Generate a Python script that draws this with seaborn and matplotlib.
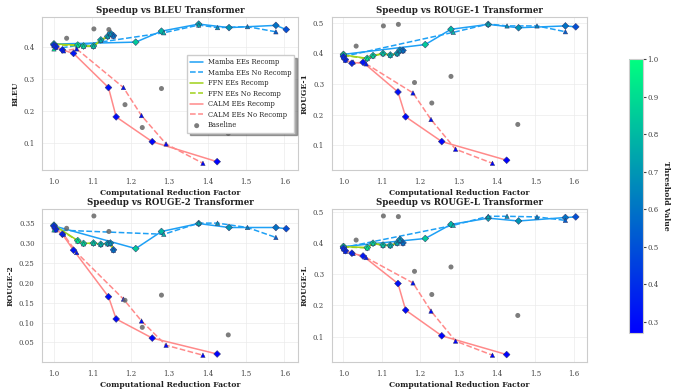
import numpy as np
import pandas as pd
import seaborn as sns
import matplotlib.pyplot as plt
from matplotlib.colors import Normalize

metrics = ["BLEU", "ROUGE-1", "ROUGE-2", "ROUGE-L"]

# Mamba early exits
mamba_re_x = [1.0, 1.213, 1.28, 1.377, 1.456, 1.578, 1.605]
mamba_re_thr = [0.95, 0.85, 0.8, 0.75, 0.7, 0.6, 0.5]
mamba_re_bleu = [0.408, 0.414, 0.448, 0.470, 0.459, 0.466, 0.453]
mamba_re_r1 = [0.397, 0.429, 0.479, 0.495, 0.484, 0.490, 0.487]
mamba_re_r2 = [0.343, 0.286, 0.329, 0.349, 0.339, 0.339, 0.336]
mamba_re_rl = [0.388, 0.414, 0.459, 0.479, 0.470, 0.481, 0.483]

mamba_no_x = [1.0, 1.286, 1.377, 1.426, 1.504, 1.578]
mamba_no_thr = [0.95, 0.8, 0.75, 0.7, 0.65, 0.55]
mamba_no_bleu = [0.393, 0.443, 0.467, 0.459, 0.462, 0.446]
mamba_no_r1 = [0.390, 0.469, 0.496, 0.490, 0.490, 0.471]
mamba_no_r2 = [0.333, 0.322, 0.350, 0.350, 0.339, 0.314]
mamba_no_rl = [0.385, 0.456, 0.485, 0.485, 0.483, 0.472]

# FFN early exits
ffn_x = [1.0, 1.062, 1.077, 1.103, 1.122, 1.14, 1.147, 1.155]
ffn_thr = [1.0, 0.95, 0.9, 0.85, 0.8, 0.75, 0.7, 0.6]
ffn_re_bleu = [0.408, 0.405, 0.402, 0.402, 0.421, 0.432, 0.442, 0.434]
ffn_re_r1 = [0.395, 0.384, 0.393, 0.400, 0.395, 0.400, 0.411, 0.410]
ffn_re_r2 = [0.345, 0.306, 0.299, 0.300, 0.297, 0.299, 0.300, 0.283]
ffn_re_rl = [0.388, 0.385, 0.399, 0.393, 0.392, 0.400, 0.411, 0.400]
ffn_no_bleu = [0.406, 0.403, 0.401, 0.401, 0.419, 0.431, 0.440, 0.433]
ffn_no_r1 = [0.394, 0.383, 0.392, 0.399, 0.394, 0.399, 0.409, 0.409]
ffn_no_r2 = [0.344, 0.305, 0.298, 0.299, 0.296, 0.298, 0.299, 0.282]
ffn_no_rl = [0.387, 0.384, 0.398, 0.392, 0.391, 0.399, 0.409, 0.399]

# CALM early exits
calm_thr = [0.4, 0.37, 0.35, 0.33, 0.31, 0.29, 0.28, 0.27]
calm_re_x = [1.0, 1.005, 1.022, 1.051, 1.142, 1.162, 1.256, 1.425]
calm_re_bleu = [0.405, 0.400, 0.390, 0.379, 0.273, 0.182, 0.105, 0.043]
calm_re_r1 = [0.390, 0.380, 0.368, 0.371, 0.274, 0.193, 0.112, 0.051]
calm_re_r2 = [0.343, 0.335, 0.322, 0.282, 0.165, 0.109, 0.061, 0.021]
calm_re_rl = [0.383, 0.375, 0.367, 0.358, 0.270, 0.185, 0.103, 0.043]

calm_no_x = [1.0, 1.005, 1.025, 1.059, 1.181, 1.228, 1.292, 1.388]
calm_no_bleu = [0.403, 0.398, 0.387, 0.393, 0.273, 0.186, 0.098, 0.038]
calm_no_r1 = [0.388, 0.378, 0.372, 0.366, 0.271, 0.184, 0.087, 0.041]
calm_no_r2 = [0.341, 0.333, 0.322, 0.276, 0.159, 0.104, 0.043, 0.018]
calm_no_rl = [0.381, 0.373, 0.366, 0.353, 0.272, 0.182, 0.086, 0.041]

# baseline
base_x = [1.033, 1.104, 1.143, 1.185, 1.23, 1.28, 1.454]
base_bleu = [0.426, 0.455, 0.453, 0.220, 0.149, 0.270, 0.131]
base_r1 = [0.424, 0.490, 0.495, 0.305, 0.238, 0.325, 0.168]
base_r2 = [0.337, 0.368, 0.329, 0.156, 0.088, 0.169, 0.069]
base_rl = [0.409, 0.486, 0.484, 0.309, 0.235, 0.323, 0.168]

MAMBA_C = "#1ea0f5"
FFN_C = "#9fd11a"
CALM_C = "#ff8a8a"

series = [
    ("Mamba EEs Recomp", mamba_re_x, mamba_re_thr,
     [mamba_re_bleu, mamba_re_r1, mamba_re_r2, mamba_re_rl], MAMBA_C, "-", "D"),
    ("Mamba EEs No Recomp", mamba_no_x, mamba_no_thr,
     [mamba_no_bleu, mamba_no_r1, mamba_no_r2, mamba_no_rl], MAMBA_C, "--", "^"),
    ("FFN EEs Recomp", ffn_x, ffn_thr,
     [ffn_re_bleu, ffn_re_r1, ffn_re_r2, ffn_re_rl], FFN_C, "-", "D"),
    ("FFN EEs No Recomp", ffn_x, ffn_thr,
     [ffn_no_bleu, ffn_no_r1, ffn_no_r2, ffn_no_rl], FFN_C, "--", "^"),
    ("CALM EEs Recomp", calm_re_x, calm_thr,
     [calm_re_bleu, calm_re_r1, calm_re_r2, calm_re_rl], CALM_C, "-", "D"),
    ("CALM EEs No Recomp", calm_no_x, calm_thr,
     [calm_no_bleu, calm_no_r1, calm_no_r2, calm_no_rl], CALM_C, "--", "^"),
]
baselines = [base_bleu, base_r1, base_r2, base_rl]

sns.set_style("whitegrid")
plt.rcParams["font.family"] = ["DejaVu Serif"]
plt.rcParams["axes.edgecolor"] = "#cccccc"
plt.rcParams["grid.color"] = "#ebebeb"
plt.rcParams["xtick.color"] = "#444444"
plt.rcParams["ytick.color"] = "#444444"

norm = Normalize(vmin=0.27, vmax=1.0)
cmap = plt.get_cmap("winter")

fig, axes = plt.subplots(2, 2, figsize=(6.83, 3.89), dpi=100)
fig.subplots_adjust(left=0.062, right=0.86, top=0.956, bottom=0.069,
                    wspace=0.133, hspace=0.253)

for i, (metric, ax) in enumerate(zip(metrics, axes.flat)):
    for name, xs, thr, ys, color, ls, mk in series:
        y = ys[i]
        sns.lineplot(x=xs, y=y, color=color, linestyle=ls, linewidth=1.1,
                     sort=False, estimator=None, label=name, ax=ax, zorder=2)
        ax.scatter(xs, y, c=thr, cmap=cmap, norm=norm, marker=mk,
                   s=12 if mk == "D" else 10, edgecolors="#333366",
                   linewidths=0.35, zorder=3)
    sns.scatterplot(x=base_x, y=baselines[i], color="#666666", s=13,
                    edgecolor="none", alpha=0.85, label="Baseline", ax=ax,
                    zorder=4)
    ax.set_title(f"Speedup vs {metric} Transformer", fontsize=6.2,
                 fontweight="bold", pad=3, color="#222222")
    ax.set_xlabel("Computational Reduction Factor", fontsize=5.5,
                  fontweight="bold", labelpad=2, color="#222222")
    ax.set_ylabel(metric, fontsize=5.5, fontweight="bold", labelpad=3,
                  color="#222222")
    ax.tick_params(labelsize=5, pad=2)
    ax.grid(True, linewidth=0.5)
    for sp in ax.spines.values():
        sp.set_linewidth(0.8)
    if i == 0:
        leg = ax.legend(loc="center right", fontsize=4.9, frameon=True,
                        shadow=True, fancybox=False, borderpad=0.45,
                        labelspacing=0.38, handlelength=1.9,
                        handletextpad=0.7)
        leg.get_frame().set_edgecolor("#cccccc")
    else:
        ax.get_legend().remove()

cax = fig.add_axes([0.921, 0.144, 0.0205, 0.704])
sm = plt.cm.ScalarMappable(norm=norm, cmap=cmap)
cb = fig.colorbar(sm, cax=cax)
cb.outline.set_edgecolor("#cccccc")
cb.set_ticks([0.3, 0.4, 0.5, 0.6, 0.7, 0.8, 0.9, 1.0])
cb.ax.tick_params(labelsize=5, length=2, pad=1)
cb.set_label("Threshold Value", fontsize=5.5, fontweight="bold",
             rotation=270, labelpad=8, color="#222222")

fig.savefig("out.png", dpi=100)
